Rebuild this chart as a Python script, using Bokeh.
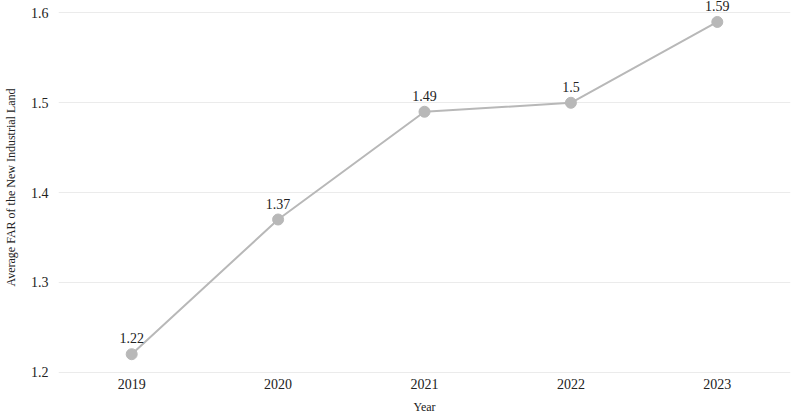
from bokeh.plotting import figure
from bokeh.models import ColumnDataSource, Range1d
from bokeh.core.properties import value
from bokeh.embed import file_html
from bokeh.resources import INLINE

years = ["2019", "2020", "2021", "2022", "2023"]
far_values = [1.22, 1.37, 1.49, 1.5, 1.59]
point_labels = ["1.22", "1.37", "1.49", "1.5", "1.59"]
y_ticks = [1.2, 1.3, 1.4, 1.5, 1.6]

FONT = "Liberation Serif"
GRAY = "#b8b8b8"

src = ColumnDataSource(dict(x=years, y=far_values, lab=point_labels))

p = figure(
    width=791, height=416, x_range=years,
    y_range=Range1d(1.1974, 1.6139),
    output_backend="svg", toolbar_location=None,
    min_border_left=0, min_border_right=1, min_border_top=0, min_border_bottom=0,
)
p.outline_line_color = None
p.background_fill_color = "white"

p.line("x", "y", source=src, line_color=GRAY, line_width=2)
p.scatter("x", "y", source=src, size=11, fill_color=GRAY, line_color=GRAY)
p.text("x", "y", text="lab", source=src, y_offset=-16,
       text_align="center", text_baseline="alphabetic",
       text_font=value(FONT), text_font_size="14px", text_color="#222222")

p.xgrid.grid_line_color = None
p.ygrid.grid_line_color = "#ebebeb"
p.ygrid.grid_line_width = 1

p.yaxis.ticker = y_ticks
p.yaxis.major_label_overrides = {t: f"{t:.1f}" for t in y_ticks}

for ax in (p.xaxis[0], p.yaxis[0]):
    ax.axis_line_color = None
    ax.major_tick_line_color = None
    ax.minor_tick_line_color = None
    ax.major_tick_out = 0
    ax.major_tick_in = 0
    ax.major_label_text_font = FONT
    ax.major_label_text_font_size = "14px"
    ax.major_label_text_color = "#222222"
    ax.axis_label_text_font = FONT
    ax.axis_label_text_font_size = "12px"
    ax.axis_label_text_font_style = "normal"
    ax.axis_label_text_color = "#222222"

p.yaxis.axis_label = "Average FAR of the New Industrial Land"
p.xaxis.axis_label = "Year"
p.yaxis.major_label_standoff = 10
p.yaxis.axis_label_standoff = 10
p.xaxis.major_label_standoff = 4
p.xaxis.axis_label_standoff = 8

open("out.html", "w").write(file_html(p, INLINE))
